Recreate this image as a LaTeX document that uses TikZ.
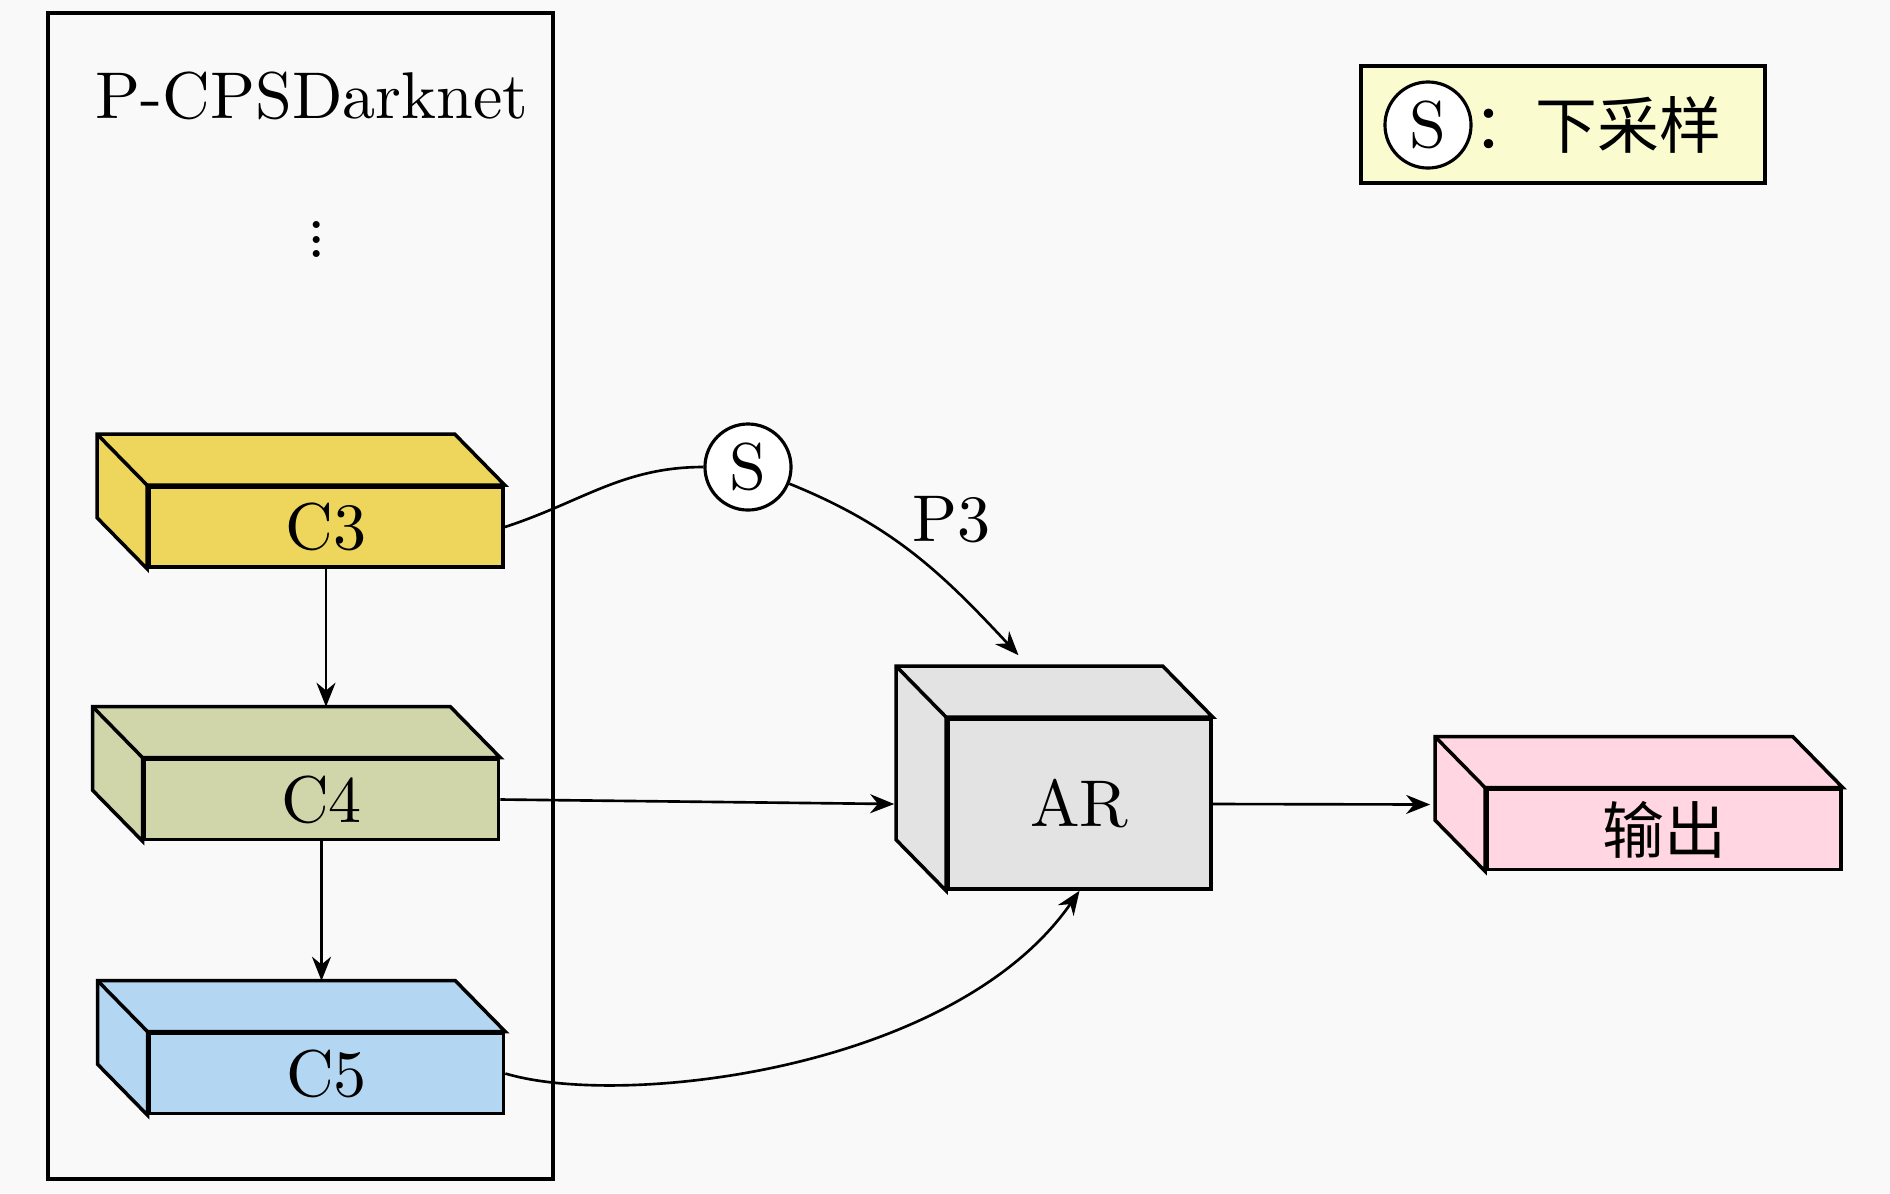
\documentclass[tikz,border=0pt]{standalone}
\usepackage{fontspec}
\setmainfont{lmroman10-regular}[Extension=.otf]
\newfontfamily\cjk{Noto Sans CJK SC}
\usetikzlibrary{arrows.meta,calc}
\definecolor{bg}{HTML}{F9F9F9}
\definecolor{cthree}{HTML}{EED65C}
\definecolor{cfour}{HTML}{D0D6AA}
\definecolor{cfive}{HTML}{B3D7F3}
\definecolor{argray}{HTML}{E3E3E3}
\definecolor{outpink}{HTML}{FFD6E2}
\definecolor{legendbg}{HTML}{FAFCD0}
\tikzset{
  face/.style={draw,line width=1pt,minimum width=3.54cm,minimum height=0.8cm,inner sep=0pt},
  sideface/.style={draw,line width=1pt},
  link/.style={-{Stealth[length=2.4mm,width=1.9mm]},line width=0.75pt},
  samp/.style={circle,draw,line width=0.9pt,fill=white,minimum size=0.86cm,inner sep=0pt},
  cn/.style={font=\cjk\fontsize{17.6}{20}\selectfont}
}
% top and left faces of a box whose front face is node #1
\newcommand{\cuboidsides}[2]{%
  \filldraw[sideface,fill=#2] (#1.south west) -- ++(-50,-51) -- ($(#1.north west)+(-50,-51)$)
    -- ($(#1.north east)+(-50,-51)$) -- (#1.north east) -- (#1.north west) -- cycle;
  \draw[line width=1pt] (#1.north west) -- ++(-50,-51);}

\begin{document}
\begin{tikzpicture}[x=0.01cm,y=-0.01cm,font=\fontsize{18.8}{23}\selectfont]
  \fill[bg] (0,0) rectangle (1890,1193);
  \useasboundingbox (0,0) rectangle (1890,1193);
  \draw[line width=1pt] (48,13) rectangle (553,1179);
  \node (title) at (312,96) {P-CPSDarknet};
  \node (dots) at (317,229) {$\vdots$};

  \node[face,fill=cthree] (c3) at (326,527) {C3};
  \node[face,fill=cfour] (c4) at (321.5,799.5) {C4};
  \node[face,fill=cfive] (c5) at (326.5,1073.5) {C5};
  \node[face,fill=argray,minimum width=2.63cm,minimum height=1.7cm] (ar) at (1079.5,804) {AR};
  \node[face,cn,fill=outpink] (out) at (1664,829.5) {输出};
  \foreach \b/\c in {c3/cthree,c4/cfour,c5/cfive,ar/argray,out/outpink} {\cuboidsides{\b}{\c}}

  \node[samp] (s) at (748,467) {S};
  \node (p3) at (952,520) {P3};

  \node[draw,line width=1.1pt,fill=legendbg,minimum width=4.04cm,minimum height=1.17cm] (legend) at (1563,124.5) {};
  \node[samp] (legs) at (1428,125) {S};
  \node[cn,anchor=west,inner sep=0pt] (legtxt) at (legs.east) {：下采样};

  \coordinate (c4top) at ($(c4.north)+(-50,-51)$);
  \coordinate (c5top) at ($(c5.north)+(-50,-51)$);
  \coordinate (artop) at ($(ar.north)+(-61,-62)$);
  \coordinate (arleft) at ($(ar.west)+(-52,0)$);
  \coordinate (outleft) at ($(out.west)+(-55,-25)$);

  \draw[link] (c3.south) -- (c3.south |- c4top);
  \draw[link] (c4.south) -- (c4.south |- c5top);
  \draw[line width=0.75pt] (c3.east) to[out=18,in=180] (s.west);
  \draw[link] (s.-22) to[out=-22,in=133] (artop);
  \draw[link] (c4.east) -- (arleft);
  \draw[link] (c5.east) .. controls +(116,35) and +(-125,180) .. (ar.south);
  \draw[link] (ar.east) -- (outleft);
\end{tikzpicture}
\end{document}
